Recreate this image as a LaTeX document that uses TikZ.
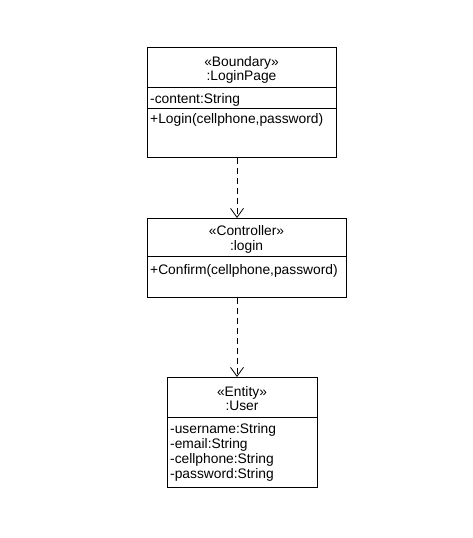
\documentclass[tikz,border=0pt]{standalone}
\usepackage{fontspec}
\setmainfont{Liberation Sans}
\usetikzlibrary{arrows.meta}

\tikzset{
  umlbox/.style={draw, line width=0.8pt, anchor=north west, inner sep=0pt},
  member/.style={anchor=base west, inner sep=0pt, font=\fontsize{13.8}{15}\selectfont},
  title/.style={anchor=base, inner sep=0pt, font=\fontsize{13.8}{15}\selectfont},
  dep/.style={line width=0.8pt, dash pattern=on 6pt off 4pt,
              -{Straight Barb[length=9pt,width=13pt,line width=0.8pt]}}
}

\begin{document}
\begin{tikzpicture}[x=1pt,y=-1pt]
\useasboundingbox (0,0) rectangle (472,538);

% boundary
\node [umlbox, minimum width=189pt, minimum height=110pt] (page) at (147,47) {};
\draw [line width=0.8pt] (147,87) -- (336,87);
\draw [line width=0.8pt] (147,108) -- (336,108);
\node [title] (pageS) at (241.5,66.5) {«Boundary»};
\node [title] (pageN) at (241.5,80.5) {:LoginPage};
\node [member] (pageA) at (150,103) {-content:String};
\node [member] (pageM) at (150,123) {+Login(cellphone,password)};

% controller
\node [umlbox, minimum width=199pt, minimum height=79pt] (ctrl) at (147,218) {};
\draw [line width=0.8pt] (147,256) -- (346,256);
\node [title] (ctrlS) at (246.5,235) {«Controller»};
\node [title] (ctrlN) at (246.5,250) {:login};
\node [member] (ctrlM) at (150,274) {+Confirm(cellphone,password)};

% entity
\node [umlbox, minimum width=150pt, minimum height=110pt] (user) at (167,377) {};
\draw [line width=0.8pt] (167,417) -- (317,417);
\node [title] (userS) at (242,396.5) {«Entity»};
\node [title] (userN) at (242,410) {:User};
\foreach \a/\y in {username/433,email/448,cellphone/463.5,password/478.5}
    \node [member] (user-\a) at (170,\y) {-\a:String};

% dependencies
\coordinate (lineX) at (237,0);
\draw [dep] (page.south -| lineX) -- (ctrl.north -| lineX);
\draw [dep] (ctrl.south -| lineX) -- (user.north -| lineX);

\end{tikzpicture}
\end{document}
